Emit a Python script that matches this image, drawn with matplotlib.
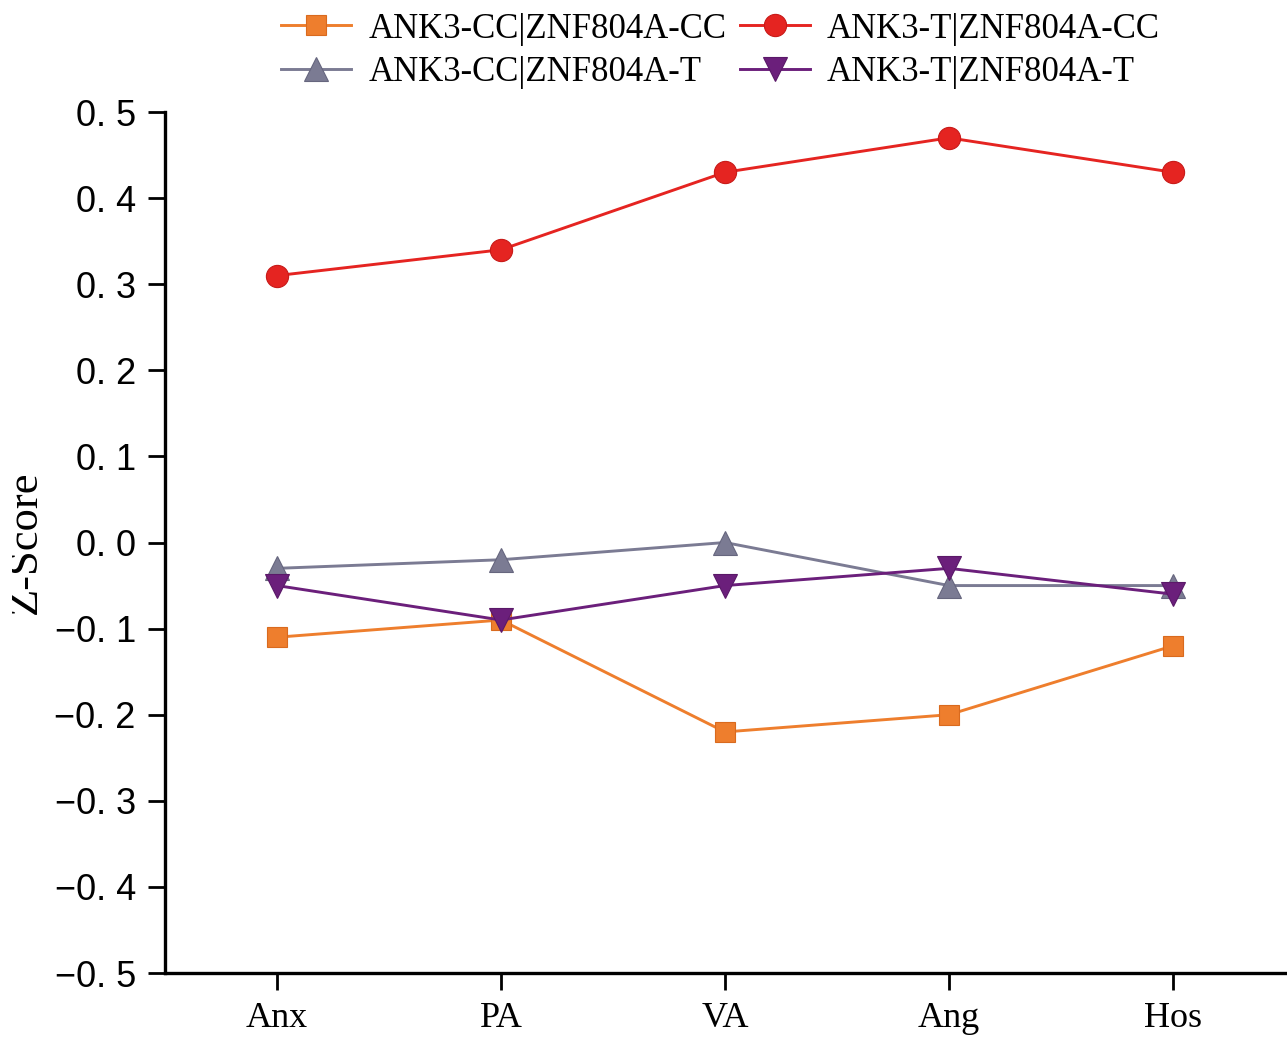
import matplotlib
matplotlib.use("Agg")
import matplotlib.pyplot as plt
from matplotlib.patches import Rectangle
from matplotlib.ticker import FuncFormatter

categories = ["Anx", "PA", "VA", "Ang", "Hos"]
series_names = ["ANK3-CC|ZNF804A-CC", "ANK3-CC|ZNF804A-T",
                "ANK3-T|ZNF804A-CC", "ANK3-T|ZNF804A-T"]
cc_cc = [-0.11, -0.09, -0.22, -0.20, -0.12]
cc_t = [-0.03, -0.02, 0.00, -0.05, -0.05]
t_cc = [0.31, 0.34, 0.43, 0.47, 0.43]
t_t = [-0.05, -0.09, -0.05, -0.03, -0.06]
yticks = [-0.5, -0.4, -0.3, -0.2, -0.1, 0.0, 0.1, 0.2, 0.3, 0.4, 0.5]

colors = ["#EE7E2D", "#7B7B93", "#E52421", "#6B1F7B"]
edges = ["#D96A1E", "#66667E", "#C81A18", "#5A1868"]
markers = ["s", "^", "o", "v"]
msizes = [14, 17, 16, 17]

fig = plt.figure(figsize=(12.87, 10.39), dpi=100)
ax = fig.add_axes([0.1282, 0.0635, 0.8702, 0.8287])

x = list(range(len(categories)))
handles = []
for vals, name, c, ec, m, ms in zip([cc_cc, cc_t, t_cc, t_t], series_names,
                                    colors, edges, markers, msizes):
    h, = ax.plot(x, vals, color=c, lw=2.1, marker=m, markersize=ms,
                 markerfacecolor=c, markeredgecolor=ec, markeredgewidth=0.8,
                 label=name)
    handles.append(h)

ax.set_xlim(-0.5, len(categories) - 0.5)
ax.set_ylim(-0.5, 0.5)
ax.set_xticks(x)
ax.set_xticklabels(categories, family="Liberation Serif", fontsize=26)
ax.set_yticks(yticks)

def fmt(v, pos):
    s = "%.1f" % abs(v)
    s = s.replace(".", ". ")
    return ("\u2212" + s) if v < -1e-9 else s

ax.yaxis.set_major_formatter(FuncFormatter(fmt))
for lab in ax.get_yticklabels():
    lab.set_family("Liberation Sans")
    lab.set_fontsize(26)

for side in ["top", "right"]:
    ax.spines[side].set_visible(False)
for side in ["left", "bottom"]:
    ax.spines[side].set_linewidth(2.4)
ax.tick_params(axis="y", length=12, width=2.0, pad=9)
ax.tick_params(axis="x", length=12, width=2.0, pad=9)

# y label sits half outside the figure, as in the source image
fig.text(36 / 1287, 0.478, "Z-Score", rotation=90, rotation_mode="anchor",
         ha="center", va="baseline", family="Liberation Serif", fontsize=32)
fig.add_artist(Rectangle((0, 0), 12 / 1287, 1, transform=fig.transFigure,
                         facecolor="white", edgecolor="none", zorder=10))

fig.legend(handles=handles, loc="upper center", bbox_to_anchor=(0.56, 1.018),
           ncol=2, frameon=False, handlelength=2.0, handletextpad=0.5,
           columnspacing=0.4, labelspacing=0.3,
           prop={"family": "Liberation Serif", "size": 25})

fig.savefig("out.png", dpi=100)
